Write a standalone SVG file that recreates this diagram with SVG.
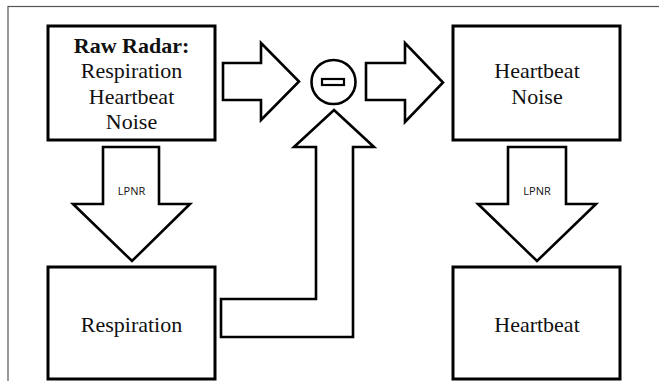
<svg xmlns="http://www.w3.org/2000/svg" width="659" height="381" viewBox="0 0 659 381">
<style>
.frame{fill:none;stroke:#555;stroke-width:1.2}
.box{fill:#fff;stroke:#000;stroke-width:3}
.arr{fill:#fff;stroke:#000;stroke-width:2.6;stroke-linejoin:miter}
.t{font-family:"Liberation Serif","Times New Roman",serif;font-size:22px;text-anchor:middle;fill:#111}
.b{font-weight:bold}
.s{font-family:"Open Sans","Liberation Sans",sans-serif;font-size:11px;text-anchor:middle;fill:#111}
</style>
<rect class="frame" x="8" y="6.5" width="700" height="420"/>
<g id="connectors">
<polygon class="arr" points="223,63 261,63 261,43 299,81.5 261,120 261,100 223,100"/>
<polygon class="arr" points="366,63 405,63 405,43 443,82.5 405,122 405,100 366,100"/>
<polygon class="arr" points="334,110 374,147 353,147 353,337 221,337 221,299 316,299 316,147 294,147"/>
<g id="lpnr1">
<polygon class="arr" points="103,147 159,147 159,204 190,204 132,261 73,204 103,204"/>
<text class="s" x="131.5" y="195">LPNR</text>
</g>
<g id="lpnr2">
<polygon class="arr" points="508,147 566,147 566,204 596,204 537,261 478,204 508,204"/>
<text class="s" x="537" y="195">LPNR</text>
</g>
</g>
<g id="raw">
<rect class="box" x="48" y="26" width="167" height="114"/>
<text class="t b" x="131.5" y="53">Raw Radar:</text>
<text class="t" x="131.5" y="78">Respiration</text>
<text class="t" x="131.5" y="104">Heartbeat</text>
<text class="t" x="131.5" y="129">Noise</text>
</g>
<g id="minus">
<circle cx="333.5" cy="82" r="22" fill="#fff" stroke="#000" stroke-width="2.6"/>
<rect x="322" y="79" width="22" height="6" fill="#fff" stroke="#000" stroke-width="2.2"/>
</g>
<g id="hbnoise">
<rect class="box" x="453" y="26" width="167" height="114"/>
<text class="t" x="537" y="78">Heartbeat</text>
<text class="t" x="537" y="104">Noise</text>
</g>
<g id="resp">
<rect class="box" x="48" y="267" width="167" height="112"/>
<text class="t" x="131.5" y="332">Respiration</text>
</g>
<g id="hb">
<rect class="box" x="453" y="267" width="167" height="112"/>
<text class="t" x="537" y="332">Heartbeat</text>
</g>
</svg>
